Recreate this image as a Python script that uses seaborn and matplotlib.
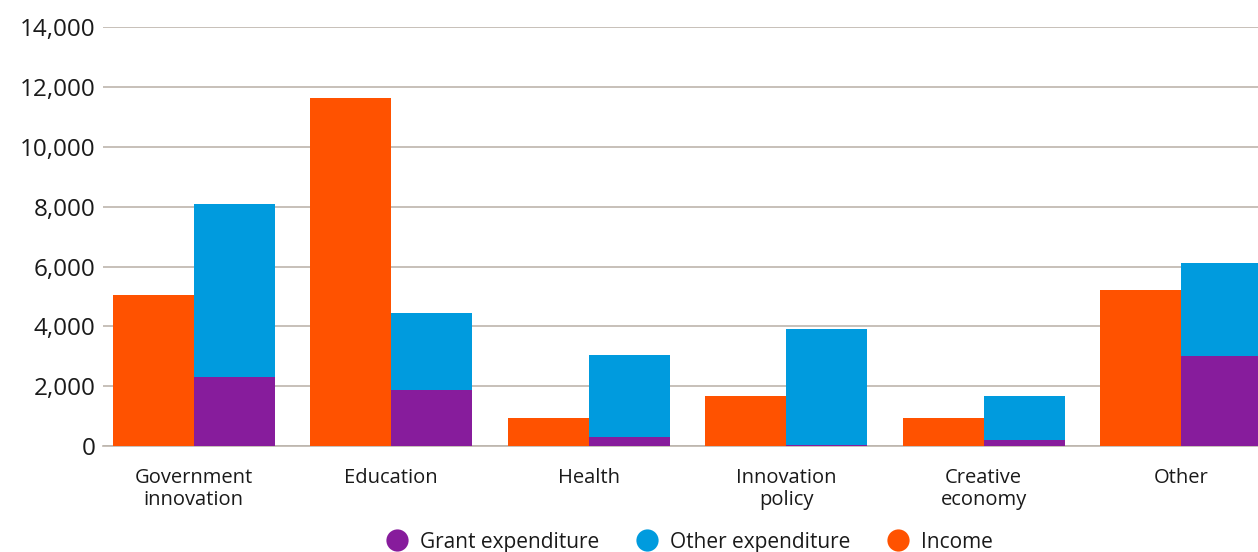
import matplotlib
matplotlib.use("Agg")
import matplotlib.pyplot as plt
from matplotlib.lines import Line2D
from matplotlib.ticker import FuncFormatter
import pandas as pd
import seaborn as sns

categories = ["Government\ninnovation", "Education", "Health",
              "Innovation\npolicy", "Creative\neconomy", "Other"]
income = [5050, 11650, 950, 1680, 950, 5220]
grant_expenditure = [2300, 1880, 300, 50, 200, 3000]
other_expenditure = [5800, 2570, 2750, 3870, 1480, 3120]
y_ticks = [0, 2000, 4000, 6000, 8000, 10000, 12000, 14000]

ORANGE = "#FF5200"
BLUE = "#009BDE"
PURPLE = "#871C9C"
GRID = "#bdb5ad"

sns.set_theme(style="white")
plt.rcParams["font.family"] = ["Open Sans", "DejaVu Sans"]

total_expenditure = [g + o for g, o in zip(grant_expenditure, other_expenditure)]

top_layer = pd.DataFrame({
    "category": categories * 2,
    "series": ["Income"] * len(categories) + ["Expenditure"] * len(categories),
    "value": income + total_expenditure,
})
grant_layer = pd.DataFrame({
    "category": categories * 2,
    "series": ["Income"] * len(categories) + ["Expenditure"] * len(categories),
    "value": [0] * len(categories) + grant_expenditure,
})

fig = plt.figure(figsize=(12.58, 5.52), dpi=100)
ax = fig.add_axes([103 / 1258, 1 - 446 / 552, 1 - 103 / 1258, (446 - 27.3) / 552])

hue_order = ["Income", "Expenditure"]
sns.barplot(data=top_layer, x="category", y="value", hue="series",
            hue_order=hue_order, order=categories,
            palette={"Income": ORANGE, "Expenditure": BLUE},
            width=0.82, gap=0, errorbar=None, linewidth=0,
            saturation=1, legend=False, ax=ax, zorder=3)
sns.barplot(data=grant_layer, x="category", y="value", hue="series",
            hue_order=hue_order, order=categories,
            palette={"Income": ORANGE, "Expenditure": PURPLE},
            width=0.82, gap=0, errorbar=None, linewidth=0,
            saturation=1, legend=False, ax=ax, zorder=4)

ax.set_xlim(-0.46, 5.39)
ax.set_ylim(0, 14000)
ax.set_yticks(y_ticks)
ax.yaxis.set_major_formatter(FuncFormatter(lambda v, _: f"{int(v):,}"))
ax.set_xlabel("")
ax.set_ylabel("")

ax.grid(axis="y", color=GRID, linewidth=1.2, zorder=0)
ax.set_axisbelow(True)
for side in ["top", "right", "left"]:
    ax.spines[side].set_visible(False)
ax.spines["bottom"].set_color(GRID)
ax.spines["bottom"].set_linewidth(1.2)
ax.spines["bottom"].set_zorder(2)

ax.tick_params(axis="y", length=0, pad=5.5, labelsize=17.5, labelcolor="#1a1a1a")
ax.tick_params(axis="x", length=0, pad=15.5, labelsize=14.5, labelcolor="#1a1a1a")
for lbl in ax.get_xticklabels():
    lbl.set_linespacing(1.15)
    lbl.set_verticalalignment("top")

handles = [
    Line2D([0], [0], marker="o", linestyle="", markersize=16,
           markerfacecolor=PURPLE, markeredgewidth=0, label="Grant expenditure"),
    Line2D([0], [0], marker="o", linestyle="", markersize=16,
           markerfacecolor=BLUE, markeredgewidth=0, label="Other expenditure"),
    Line2D([0], [0], marker="o", linestyle="", markersize=16,
           markerfacecolor=ORANGE, markeredgewidth=0, label="Income"),
]
fig.legend(handles=handles, loc="center", bbox_to_anchor=(0.544, 0.018),
           ncol=3, frameon=False, fontsize=15, handletextpad=0.1,
           columnspacing=1.3, labelcolor="#1a1a1a")

fig.savefig("out.png", dpi=100)
